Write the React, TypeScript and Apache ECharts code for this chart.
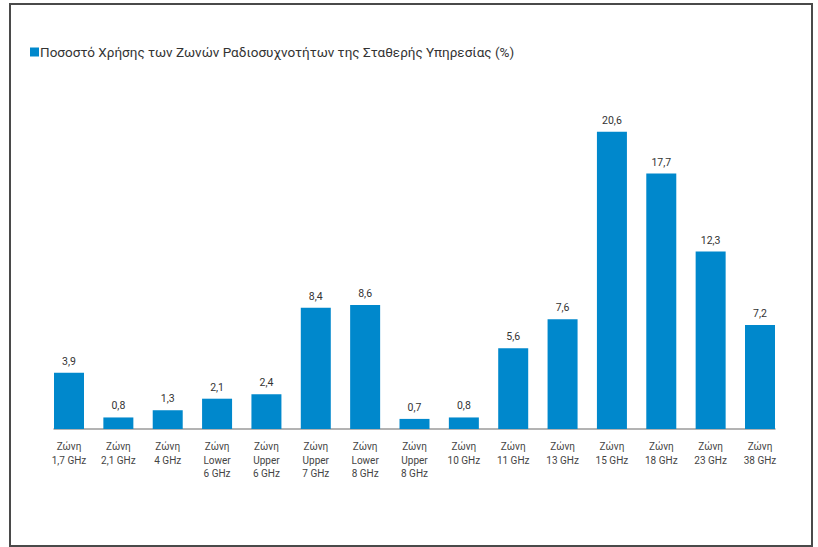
import React, { useEffect, useRef } from "react";
import * as echarts from "echarts";

const seriesName = "Ποσοστό Χρήσης των Ζωνών Ραδιοσυχνοτήτων της Σταθερής Υπηρεσίας (%)";
const categories = [
  "Ζώνη\n1,7 GHz",
  "Ζώνη\n2,1 GHz",
  "Ζώνη\n4 GHz",
  "Ζώνη\nLower\n6 GHz",
  "Ζώνη\nUpper\n6 GHz",
  "Ζώνη\nUpper\n7 GHz",
  "Ζώνη\nLower\n8 GHz",
  "Ζώνη\nUpper\n8 GHz",
  "Ζώνη\n10 GHz",
  "Ζώνη\n11 GHz",
  "Ζώνη\n13 GHz",
  "Ζώνη\n15 GHz",
  "Ζώνη\n18 GHz",
  "Ζώνη\n23 GHz",
  "Ζώνη\n38 GHz",
];
const values = [3.9, 0.8, 1.3, 2.1, 2.4, 8.4, 8.6, 0.7, 0.8, 5.6, 7.6, 20.6, 17.7, 12.3, 7.2];

const FONT = "Roboto, 'Noto Sans', sans-serif";

export default function App() {
  const ref = useRef<HTMLDivElement>(null);
  useEffect(() => {
    document.body.style.margin = "0";
    const chart = echarts.init(ref.current!, null, { renderer: "svg" });
    chart.setOption({
      animation: false,
      textStyle: { fontFamily: FONT },
      legend: {
        left: 25,
        top: 40,
        itemWidth: 9,
        itemHeight: 9,
        itemGap: 0,
        icon: "rect",
        textStyle: { fontSize: 13.5, color: "#333", fontFamily: FONT, padding: [0, 0, 0, -4] },
        data: [seriesName],
      },
      grid: [
        { left: 69, right: 58, top: 126, bottom: 118 },
        { left: 54, right: 43, top: 126, bottom: 118 },
      ],
      xAxis: [
        {
          type: "category",
          gridIndex: 0,
          data: categories,
          boundaryGap: false,
          axisLine: { show: false },
          axisTick: { show: false },
          axisLabel: {
            interval: 0,
            color: "#444",
            fontSize: 10,
            lineHeight: 13.5,
            margin: 11,
            fontFamily: FONT,
          },
        },
        {
          type: "value",
          gridIndex: 1,
          min: 0,
          max: 1,
          axisLine: { show: true, lineStyle: { color: "#9a9a9a", width: 1.5 } },
          axisTick: { show: false },
          axisLabel: { show: false },
          splitLine: { show: false },
        },
      ],
      yAxis: [
        { type: "value", gridIndex: 0, min: 0, max: 21, show: false, splitLine: { show: false } },
        { type: "value", gridIndex: 1, min: 0, max: 1, show: false, splitLine: { show: false } },
      ],
      series: [
        {
          name: seriesName,
          type: "bar",
          xAxisIndex: 0,
          yAxisIndex: 0,
          data: values,
          barWidth: 30,
          itemStyle: { color: "#0088cc" },
          label: {
            show: true,
            position: "top",
            distance: 6,
            fontSize: 10.5,
            color: "#333",
            fontFamily: FONT,
            formatter: (p: any) => String(p.value).replace(".", ","),
          },
        },
      ],
      graphic: [
        {
          type: "rect",
          shape: { x: 10, y: 4, width: 802, height: 542 },
          style: { fill: "none", stroke: "#4a4a4a", lineWidth: 2 },
          silent: true,
        },
      ],
    });
    return () => chart.dispose();
  }, []);
  return <div ref={ref} style={{ width: 818, height: 547 }} />;
}
